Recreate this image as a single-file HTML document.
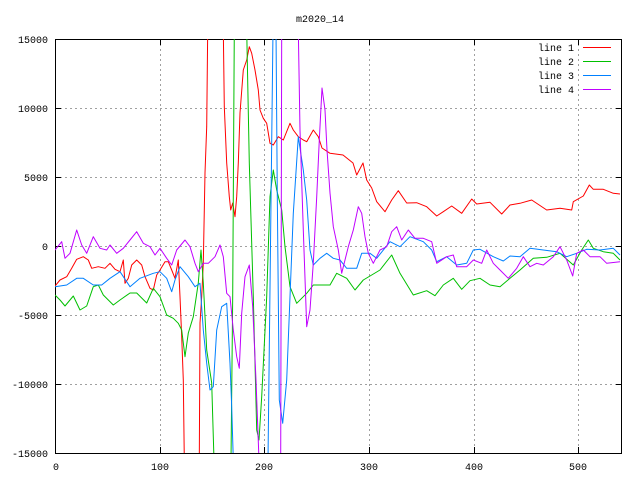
<!DOCTYPE html>
<html><head><meta charset="utf-8"><style>
html,body{margin:0;padding:0;background:#fff}
svg text{font-family:"Liberation Mono","DejaVu Sans Mono",monospace;font-size:10px;fill:#000}
</style></head><body>
<svg width="640" height="480" viewBox="0 0 640 480" xmlns="http://www.w3.org/2000/svg">
<rect width="640" height="480" fill="#fff"/>
<defs><clipPath id="c"><rect x="55" y="39" width="567" height="414"/></clipPath></defs>
<g stroke="#a0a0a0" stroke-width="1" stroke-dasharray="2,3" fill="none">
<path d="M160.5 39V453M264.5 39V453M369.5 39V453M474.5 39V453M578.5 39V453"/>
<path d="M55 108.5H622M55 177.5H622M55 246.5H622M55 315.5H622M55 384.5H622"/>
</g>
<g stroke="#000" stroke-width="1" fill="none">
<rect x="55.5" y="39.5" width="566" height="414"/>
<path d="M55 108.5h6M55 177.5h6M55 246.5h6M55 315.5h6M55 384.5h6M622 108.5h-6M622 177.5h-6M622 246.5h-6M622 315.5h-6M622 384.5h-6"/>
<path d="M160.5 453v-6M264.5 453v-6M369.5 453v-6M474.5 453v-6M578.5 453v-6M160.5 39v6M264.5 39v6M369.5 39v6M474.5 39v6M578.5 39v6"/>
</g>
<g text-anchor="end">
<text x="48" y="43">15000</text><text x="48" y="112">10000</text><text x="48" y="181">5000</text>
<text x="48" y="250">0</text><text x="48" y="319">-5000</text><text x="48" y="388">-10000</text><text x="48" y="457">-15000</text>
</g>
<g text-anchor="middle">
<text x="56" y="470">0</text><text x="160" y="470">100</text><text x="264" y="470">200</text>
<text x="369" y="470">300</text><text x="474" y="470">400</text><text x="578" y="470">500</text>
<text x="320" y="22">m2020_14</text>
</g>
<g clip-path="url(#c)" fill="none" stroke-width="1" stroke-linejoin="round">
<polyline stroke="#ff0000" points="55,286 60,280 66.7,276.7 71.7,268.3 76.7,259.3 83.3,256.7 88.3,260 91.7,268.3 98.3,266.7 105,268.3 110,263.3 115,269.3 120,271.7 123.3,260 125,283.3 128.3,278.3 131.7,265 136.7,260 141.7,265 145,276.7 150,288.3 153.3,290 156.7,275 160,270 165,261.7 168.3,261.7 171.7,270 175,278.3 178.3,260 180,296.7 181.7,336.7 183.3,380 184.3,460 199.3,460 200,323 201.7,296.7 203.3,263 205,173 206.7,126.7 207.7,30 223.3,30 224.3,106.7 226.7,163 229.3,196.7 230.7,210 232.7,203 235,216.7 236.7,196.7 238.3,163 240,113 243.3,70 246.7,60 249.3,46.7 251.7,53.3 255,70 258.3,90 260,110 263.3,118.3 266.7,123.3 270,143.3 273.3,145 278.3,136.7 283.3,140 290,123.3 293.3,130 298.3,136.7 303.3,140 306.7,141.7 313.3,130 318.3,136.7 322,148 330,153.3 343,155 353,163 356.7,175 363,163 366.7,180 371.7,188 376.7,201.7 385,211.7 391.7,200 398.3,190.7 406.7,203 416.7,202.7 426.7,206.7 436.7,216 443.3,211.7 451.7,206 461.7,213.3 471.7,199 476.7,204 490,202.3 501.7,214 510,205 520,203.3 531.7,200 546.7,210 560,208.3 571.7,210 573.3,201.7 583.3,196 589.3,185 593.3,189.3 603.3,189.3 613.3,193.3 620,194"/>
<polyline stroke="#00c000" points="55,295 60,300 65,306 73.3,296 80,310 86.7,306 93.3,286.7 98.3,285 103.3,295 113.3,305 120,300 130,293 136.7,293 146.7,303 153.3,288.3 160,296.7 166.7,315 173.3,318.3 178.3,323.3 181.7,330 185,356.7 188.3,333 193.3,316.7 198.3,283 201,250 203.3,283 206.7,350 211.7,383 214,460 231,460 232.7,296.7 234.3,30 246.7,30 249.3,163 253.3,296.7 256.7,430 259,440 261.7,396.7 266.7,296.7 270,196.7 273.3,170 276.7,190 281.7,210 285,246.7 290,286.7 296.7,303.3 303.3,296.7 306.7,293.3 313.3,285 330,285 336.7,273.3 346.7,278.3 355,290 363.3,280 371.7,275 380,270 391.7,255 400,273.3 413.3,295 426.7,290.7 435,295.7 443.3,285 453.3,278.3 461.7,289.3 470,280.7 480,278.3 490,285 500,286.7 510,278.3 520,270 533.3,258.3 546.7,257.3 560,253.3 573.3,265 581.7,250 588.3,240 593.3,248.3 603.3,251.7 613.3,253.3 620,260"/>
<polyline stroke="#0080ff" points="55,286.7 66.7,285 76.7,278.3 83.3,278.3 93.3,285 101.7,285 110,278.3 120,271.7 130,286.7 140,278.3 153.3,273.3 160,271.7 166.7,278.3 171.7,291.7 175,280 180,266.7 188.3,276.7 195,286.7 200,283.3 203.3,330 206.7,363.3 210,390 213.3,386.7 216.7,330 221.7,306.7 226.7,303.3 230,363.3 231.7,406.7 233.3,460 268,460 273,30 276,30 277.3,196.7 279.3,400 282.7,423.3 286.7,380 290,296.7 293.3,213.3 298.3,136.7 303.3,170 306.7,200 310,250 313.3,265 320,258.3 326.7,253.3 333.3,258.3 340,260 346.7,268.3 356.7,268.3 361.7,253.3 370,253.3 376.7,258.3 390,241.7 400,246.7 410,236.7 423.3,241.7 431.7,250 436.7,261.7 446.7,256.7 456.7,265 466.7,263.3 473.3,250 480,249.3 493.3,256.7 503.3,261 510,256 520,256.7 530,248.3 543.3,250 556.7,251.7 566.7,256.7 576.7,253.3 586.7,249.3 600,250 613.3,248.3 620,255"/>
<polyline stroke="#c000ff" points="55,250 61.7,241.7 65,258.3 70,253.3 76.7,230 81.7,245 86.7,253.3 93.3,236.7 100,248.3 106.7,250 110,245 116.7,253.3 123.3,248.3 130,240 136.7,231.7 143.3,243.3 150,246.7 155,255 160,248.3 166.7,258.3 171.7,265 176.7,250 185,240 190,246.7 195,263.3 198.3,271.7 203.3,263.3 208.3,263.3 215,256.7 220,245 223.3,256.7 226.7,293.3 230,296.7 233.3,330 236.7,356.7 239.3,368.3 241.7,313.3 245,276.7 249.3,265 252.7,306.7 256,380 259,460 280.7,460 281.7,30 298.3,30 300,130 303.3,230 306.7,326.7 310,310 313.3,263 316.7,197 319.3,140 322,88 325,110 327,150 330,193 333.3,226.7 338.3,250 341.7,273.3 345,260 348.3,246.7 353.3,230 358.3,206.7 361.7,213.3 365,236.7 368.3,253.3 373.3,263.3 380,250 386.7,246.7 391.7,231.7 396.7,226.7 401.7,240 408.3,230 415,238.3 423.3,238.3 431.7,241.7 436.7,263.3 446.7,256.7 453.3,255 456.7,266.7 466.7,266.7 473.3,260 481.7,263.3 486.7,250 493.3,263.3 500,270 508.3,278.3 516.7,268.3 523.3,256.7 530,266.7 536.7,263.3 543.3,265 553.3,256.7 560,246.7 566.7,260 572.7,276 576.7,253.3 583.3,250 590,256.7 600,256.7 606.7,263.3 620,261.7"/>
</g>
<g text-anchor="end">
<text x="574" y="51">line 1</text><text x="574" y="65">line 2</text><text x="574" y="79">line 3</text><text x="574" y="93">line 4</text>
</g>
<g stroke-width="1">
<path d="M583 47.5h28" stroke="#ff0000"/><path d="M583 61.5h28" stroke="#00c000"/>
<path d="M583 75.5h28" stroke="#0080ff"/><path d="M583 89.5h28" stroke="#c000ff"/>
</g>
</svg>
</body></html>
